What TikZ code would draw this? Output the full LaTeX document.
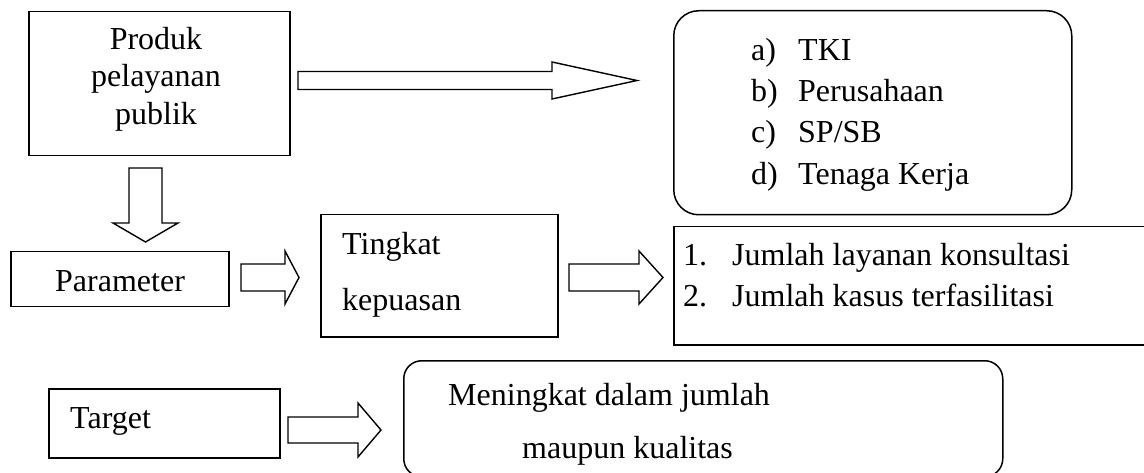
\documentclass[tikz,border=0pt]{standalone}
\usepackage{fontspec}
\setmainfont{Liberation Serif}
\usetikzlibrary{calc}

% Block arrow pointing right: #1 tail point, #2 tip point (same height),
% #3 head length, #4 shaft half-height, #5 head half-height (all in pt)
\newcommand\blockright[5]{%
  \draw[blk] ([yshift=#4pt]#1) -- ([xshift=-#3pt,yshift=#4pt]#2)
    -- ([xshift=-#3pt,yshift=#5pt]#2) -- (#2)
    -- ([xshift=-#3pt,yshift=-#5pt]#2) -- ([xshift=-#3pt,yshift=-#4pt]#2)
    -- ([yshift=-#4pt]#1) -- cycle;}
% Block arrow pointing down: #1 tail point, #2 tip point (same x)
\newcommand\blockdown[5]{%
  \draw[blk] ([xshift=-#4pt]#1) -- ([xshift=-#4pt,yshift=#3pt]#2)
    -- ([xshift=-#5pt,yshift=#3pt]#2) -- (#2)
    -- ([xshift=#5pt,yshift=#3pt]#2) -- ([xshift=#4pt,yshift=#3pt]#2)
    -- ([xshift=#4pt]#1) -- cycle;}

\tikzset{
  box/.style={draw, line width=1.5pt, inner sep=0pt, anchor=north west},
  rbox/.style={box, rounded corners=#1},
  blk/.style={draw, line width=1.4pt, fill=white, line join=miter},
  txt/.style={inner sep=0pt, anchor=base west, font=\fontsize{32}{40}\selectfont},
  ctxt/.style={txt, anchor=base},
}

\begin{document}
\begin{tikzpicture}[x=1pt, y=-1pt]
  \clip (0,0) rectangle (1144,473);
  \fill[white] (0,0) rectangle (1144,473);

  % boxes
  \node[box, minimum width=261pt, minimum height=144pt] (produk) at (28,11) {};
  \node[rbox=25pt, minimum width=398pt, minimum height=204pt] (grup) at (673,10) {};
  \node[box, minimum width=218pt, minimum height=55pt] (param) at (10,251) {};
  \node[box, minimum width=237pt, minimum height=122pt] (tingkat) at (320,214) {};
  \node[box, minimum width=480pt, minimum height=118pt] (jumlah) at (673,226) {};
  \node[box, minimum width=231pt, minimum height=69pt] (target) at (48,388) {};
  \node[rbox=18pt, minimum width=599pt, minimum height=116pt] (naik) at (403,360) {};

  % texts
  \node[ctxt] (t1) at (156,50) {Produk};
  \node[ctxt] (t2) at (156,87) {pelayanan};
  \node[ctxt] (t3) at (156,125) {publik};

  \node[txt] (la) at (751,61) {a)};  \node[txt] (ta) at (798,61) {TKI};
  \node[txt] (lb) at (751,102) {b)}; \node[txt] (tb) at (798,102) {Perusahaan};
  \node[txt] (lc) at (751,143) {c)}; \node[txt] (tc) at (798,143) {SP/SB};
  \node[txt] (ld) at (751,185) {d)}; \node[txt] (td) at (798,185) {Tenaga Kerja};

  \node[txt] (tparam) at (55,291) {Parameter};
  \node[txt] (ttk1) at (342,255) {Tingkat};
  \node[txt] (ttk2) at (342,310) {kepuasan};

  \node[txt] (l1) at (683,266) {1.}; \node[txt] (j1) at (732,266) {Jumlah layanan konsultasi};
  \node[txt] (l2) at (683,307) {2.}; \node[txt] (j2) at (732,307) {Jumlah kasus terfasilitasi};

  \node[txt] (ttarget) at (70,428) {Target};
  \node[txt] (tn1) at (448,405) {Meningkat dalam jumlah};
  \node[txt] (tn2) at (522,458) {maupun kualitas};

  % arrow end points
  \coordinate (a1s) at (298,80.5);  \coordinate (a1t) at (637,80.5);
  \coordinate (a2s) at (241,277.5); \coordinate (a2t) at (299,277.5);
  \coordinate (a3s) at (569,277.5); \coordinate (a3t) at (663,277.5);
  \coordinate (a4s) at (288,430);   \coordinate (a4t) at (381,430);
  \coordinate (a5s) at (145.5,168); \coordinate (a5t) at (145.5,242);

  % block arrows
  \blockright{a1s}{a1t}{85}{9}{18.5}
  \blockright{a2s}{a2t}{14}{13.5}{26.5}
  \blockright{a3s}{a3t}{24}{13.5}{26.5}
  \blockright{a4s}{a4t}{23}{13}{27}
  \blockdown{a5s}{a5t}{19}{16.5}{32.5}
\end{tikzpicture}
\end{document}
